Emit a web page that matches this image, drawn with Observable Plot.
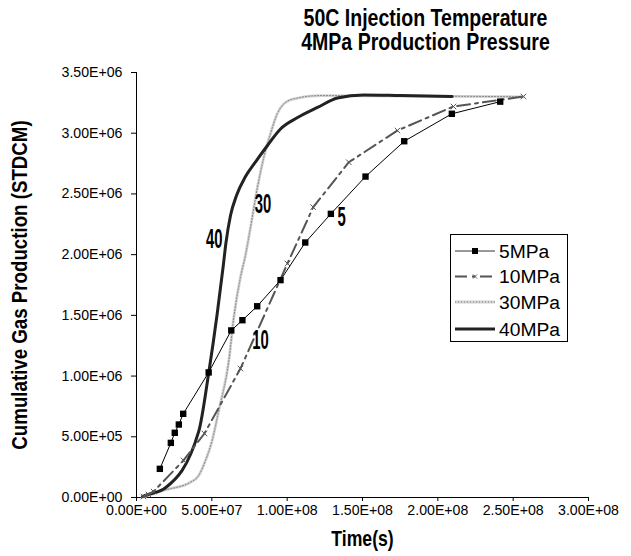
<!DOCTYPE html>
<html><head><meta charset="utf-8">
<script src="https://cdn.jsdelivr.net/npm/d3@7"></script>
<script src="https://cdn.jsdelivr.net/npm/@observablehq/plot@0.6"></script>
<style>
body{margin:0;background:#fff;} #chart{width:631px;height:556px;}
</style>
</head><body><div id="chart"></div>
<script>
const titleLines = ["50C Injection Temperature", "4MPa Production Pressure"];
const xTitle = "Time(s)";
const yTitle = "Cumulative Gas Production (STDCM)";
const seriesNames = ["5MPa", "10MPa", "30MPa", "40MPa"];
const xTicks = [0, 5e7, 1e8, 1.5e8, 2e8, 2.5e8, 3e8];
const yTicks = [0, 5e5, 1e6, 1.5e6, 2e6, 2.5e6, 3e6, 3.5e6];

const t5 = [1.55e7, 2.28e7, 2.54e7, 2.81e7, 3.10e7, 4.79e7, 6.29e7, 7.03e7, 8.01e7, 9.56e7, 1.12e8, 1.29e8, 1.52e8, 1.777e8, 2.093e8, 2.414e8];
const g5 = [2.36e5, 4.5e5, 5.33e5, 6.01e5, 6.89e5, 1.03e6, 1.376e6, 1.46e6, 1.575e6, 1.79e6, 2.10e6, 2.336e6, 2.643e6, 2.934e6, 3.16e6, 3.26e6];

const t10 = [4.6e6, 7.96e6, 1.13e7, 3.12e7, 4.51e7, 6.9e7, 1.002e8, 1.173e8, 1.409e8, 1.732e8, 2.104e8, 2.568e8];
const g10 = [8e3, 2.5e4, 4.9e4, 3.05e5, 5.27e5, 1.062e6, 1.927e6, 2.391e6, 2.761e6, 3.022e6, 3.22e6, 3.302e6];

const t30 = [3.8e6, 1.79e7, 3.58e7, 4.13e7, 4.58e7, 5.02e7, 5.46e7, 6.13e7, 6.46e7, 6.9e7, 7.23e7, 7.57e7, 8.01e7, 8.45e7, 8.89e7, 9.34e7, 9.78e7, 1.044e8, 1.221e8, 2.568e8];
const g30 = [0, 5.8e4, 1.26e5, 1.81e5, 3.05e5, 4.69e5, 7.16e5, 1.128e6, 1.485e6, 1.814e6, 1.993e6, 2.226e6, 2.542e6, 2.802e6, 2.995e6, 3.16e6, 3.242e6, 3.283e6, 3.31e6, 3.30e6];

const t40 = [3.98e6, 7.96e6, 1.925e7, 4.135e7, 4.8e7, 5.356e7, 5.761e7, 5.94e7, 6.239e7, 6.637e7, 7.234e7, 7.964e7, 8.694e7, 9.557e7, 1.069e8, 1.201e8, 1.334e8, 1.507e8, 1.752e8, 2.095e8];
const g40 = [8.2e3, 2.5e4, 8.0e4, 5.46e5, 1.032e6, 1.513e6, 1.911e6, 2.1e6, 2.322e6, 2.487e6, 2.643e6, 2.775e6, 2.899e6, 3.035e6, 3.129e6, 3.212e6, 3.29e6, 3.315e6, 3.31e6, 3.302e6];

const curveLabels = ["40", "30", "5", "10"];
const curveLabelT = [5.16e7, 8.4e7, 1.361e8, 8.23e7];
const curveLabelG = [2.129e6, 2.417e6, 2.306e6, 1.293e6];

const zip = (t, g) => t.map((v, i) => ({t: v, g: g[i]}));
const d5 = zip(t5, g5), d10 = zip(t10, g10), d30 = zip(t30, g30), d40 = zip(t40, g40);
const labels = curveLabels.map((s, i) => ({s, t: curveLabelT[i], g: curveLabelG[i]}));

function sci(d) {
  const [m, e] = d.toExponential(2).split("e");
  const sign = e[0] === "-" ? "-" : "+";
  const n = e.replace(/^[+-]/, "").padStart(2, "0");
  return `${m}E${sign}${n}`;
}

const FONT = "'Liberation Sans', Arial, sans-serif";

const chart = Plot.plot({
  width: 631, height: 556,
  marginLeft: 136, marginRight: 43, marginTop: 72, marginBottom: 59,
  style: {fontFamily: FONT, fontSize: "12.5px", color: "#000", background: "#fff", overflow: "visible"},
  x: {domain: [0, 3e8]},
  y: {domain: [0, 3.5e6]},
  marks: [
    Plot.axisX({ticks: xTicks, tickFormat: () => "", tickSize: 4, label: null}),
    Plot.axisY({ticks: yTicks, tickFormat: () => "", tickSize: 5, label: null}),
    Plot.text(xTicks, {x: d => d, frameAnchor: "bottom", dy: 7, lineAnchor: "top", textAnchor: "middle", text: sci, fontSize: 12.5, fill: "#000"}),
    Plot.text(yTicks, {y: d => d, frameAnchor: "left", dx: -14, lineAnchor: "middle", textAnchor: "end", text: sci, fontSize: 12.5, fill: "#000"}),
    Plot.ruleY([0], {stroke: "#000"}),
    Plot.ruleX([0], {stroke: "#000"}),
    // 30MPa
    Plot.line(d30, {x: "t", y: "g", stroke: "#d2d2d2", strokeWidth: 2.8, curve: "monotone-x"}),
    Plot.line(d30, {x: "t", y: "g", stroke: "#808080", strokeWidth: 1, strokeDasharray: "1,2", curve: "monotone-x"}),
    // 40MPa
    Plot.line(d40, {x: "t", y: "g", stroke: "#222", strokeWidth: 3, curve: "monotone-x"}),
    // 10MPa
    Plot.line(d10, {x: "t", y: "g", stroke: "#555", strokeWidth: 2, strokeDasharray: "13,5,3,5"}),
    Plot.dot(d10, {x: "t", y: "g", symbol: "times", r: 2.6, stroke: "#555", strokeWidth: 1}),
    // 5MPa
    Plot.line(d5, {x: "t", y: "g", stroke: "#000", strokeWidth: 1}),
    Plot.dot(d5, {x: "t", y: "g", symbol: "square", r: 3.6, fill: "#000", stroke: "none"}),
    // curve labels
    Plot.text(labels, {x: "t", y: "g", text: "s", fontSize: 27, fontWeight: "bold", fill: "#000"}),
    // titles
    Plot.text([titleLines.join("\n")], {frameAnchor: "top-left", dx: 289, dy: -42, textAnchor: "middle", lineAnchor: "middle", lineHeight: 1.05, text: d => d, fontSize: 23, fontWeight: "bold", fill: "#000"}),
    Plot.text([xTitle], {frameAnchor: "bottom", dy: 42, textAnchor: "middle", lineAnchor: "middle", text: d => d, fontSize: 21.5, fontWeight: "bold", fill: "#000"}),
    Plot.text([yTitle], {frameAnchor: "left", dx: -116, rotate: -90, textAnchor: "middle", lineAnchor: "middle", text: d => d, fontSize: 21.5, fontWeight: "bold", fill: "#000"})
  ]
});

document.getElementById("chart").appendChild(chart);

// fit tick label size to the reference width of "0.00E+00" (about 61px)
(function fitTicks() {
  const ticks = [...chart.querySelectorAll("text")].filter(el => /^\d\.\d\dE[+-]\d\d$/.test(el.textContent));
  const ref = ticks.find(el => el.textContent === "0.00E+00");
  if (!ref) return;
  const len = ref.getComputedTextLength();
  if (!len) return;
  const fs = Math.max(11, Math.min(16, 12.5 * 61 / len));
  ticks.forEach(el => { el.setAttribute("font-size", fs); el.style.fontSize = fs + "px"; });
})();

function condenseTexts(contents, s) {
  chart.querySelectorAll("text").forEach(el => {
    if (!contents.includes(el.textContent)) return;
    const b = el.getBBox();
    const cx = b.x + b.width / 2, cy = b.y + b.height / 2;
    const t = el.getAttribute("transform") || "";
    el.setAttribute("transform", `${t} translate(${cx},${cy}) scale(${s},1) translate(${-cx},${-cy})`);
  });
}
condenseTexts([titleLines.join(""), titleLines.join("\n")], 0.85);
condenseTexts([xTitle], 0.82);
condenseTexts([yTitle], 0.87);
condenseTexts(curveLabels, 0.55);

// legend
const svg = d3.select(chart);
const lg = svg.append("g").attr("font-family", FONT).attr("font-size", 17.5).attr("text-anchor", "start");
lg.append("rect").attr("x", 450.5).attr("y", 234.5).attr("width", 117).attr("height", 107)
  .attr("fill", "#fff").attr("stroke", "#000").attr("stroke-width", 1);
const rowsY = [251, 276.5, 302, 329];
const x0 = 455, x1 = 495;
// 5MPa
lg.append("line").attr("x1", x0).attr("x2", x1).attr("y1", rowsY[0]).attr("y2", rowsY[0]).attr("stroke", "#333").attr("stroke-width", 1);
lg.append("rect").attr("x", 472).attr("y", rowsY[0] - 3).attr("width", 6).attr("height", 6).attr("fill", "#000");
// 10MPa
lg.append("line").attr("x1", x0).attr("x2", x1).attr("y1", rowsY[1]).attr("y2", rowsY[1]).attr("stroke", "#555").attr("stroke-width", 2).attr("stroke-dasharray", "12,5,3,5");
lg.append("path").attr("d", `M${475 - 2},${rowsY[1] - 2}L${475 + 2},${rowsY[1] + 2}M${475 - 2},${rowsY[1] + 2}L${475 + 2},${rowsY[1] - 2}`).attr("stroke", "#555").attr("stroke-width", 1);
// 30MPa
lg.append("line").attr("x1", x0).attr("x2", x1).attr("y1", rowsY[2]).attr("y2", rowsY[2]).attr("stroke", "#d2d2d2").attr("stroke-width", 2.8);
lg.append("line").attr("x1", x0).attr("x2", x1).attr("y1", rowsY[2]).attr("y2", rowsY[2]).attr("stroke", "#808080").attr("stroke-width", 1).attr("stroke-dasharray", "1,2");
// 40MPa
lg.append("line").attr("x1", x0).attr("x2", x1).attr("y1", rowsY[3]).attr("y2", rowsY[3]).attr("stroke", "#222").attr("stroke-width", 3);
const legendTexts = seriesNames.map((n, i) =>
  lg.append("text").attr("x", 499).attr("y", rowsY[i]).attr("dy", "0.35em").attr("fill", "#000").text(n).node());
// fit legend text to reference width of "10MPa" (about 61px)
(function fitLegend() {
  const len = legendTexts[1].getComputedTextLength();
  if (!len) return;
  const fs = Math.max(16, Math.min(21, 17.5 * 61 / len));
  lg.attr("font-size", fs);
})();
</script>
</body></html>
